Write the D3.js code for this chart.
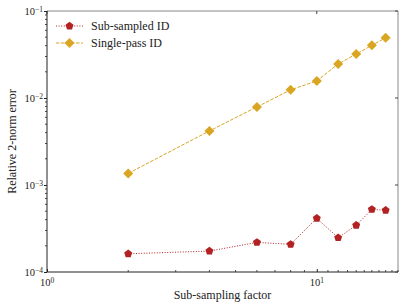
<!DOCTYPE html>
<html>
<head>
<meta charset="utf-8">
<script src="https://cdn.jsdelivr.net/npm/d3@7"></script>
<style>
  body { margin: 0; background: #fff; }
  svg text { font-family: "Liberation Serif", "DejaVu Serif", serif; fill: #222; }
</style>
</head>
<body>
<svg id="chart" width="407" height="308"></svg>
<script>
// data
var factors = [2, 4, 6, 8, 10, 12, 14, 16, 18];
var subSampled = [1.62e-4, 1.74e-4, 2.19e-4, 2.08e-4, 4.14e-4, 2.48e-4, 3.44e-4, 5.25e-4, 5.12e-4];
var singlePass = [1.36e-3, 4.18e-3, 7.9e-3, 1.24e-2, 1.57e-2, 2.46e-2, 3.2e-2, 4.03e-2, 4.93e-2];
var seriesNames = ['Sub-sampled ID', 'Single-pass ID'];
var xMajor = [1, 10];
var yMajor = [1e-4, 1e-3, 1e-2, 1e-1];

var red = '#b22222', gold = '#daa520';

// set up the dimensions of the plotting area
var margin = {top: 11, right: 9, bottom: 36, left: 47};
var width = 407 - margin.left - margin.right;
var height = 308 - margin.top - margin.bottom;

var svg = d3.select('#chart')
    .append('g')
    .attr('transform', 'translate(' + margin.left + ',' + margin.top + ')');

var x = d3.scaleLog().domain([1, 20]).range([0, width]);
var y = d3.scaleLog().domain([1e-4, 1e-1]).range([height, 0]);

// minor ticks
var xMinor = [];
for (var k = 2; k <= 20; k++) { if (k != 10) xMinor.push(k); }
var yMinor = [];
[1e-4, 1e-3, 1e-2].forEach(function(b){
    for (var k = 2; k <= 9; k++) yMinor.push(b * k);
});

// superscript labels like 10^-1
function powLabel(sel, v){
    var e = Math.round(Math.log10(v));
    sel.text('10');
    sel.append('tspan')
        .attr('dy', '-0.45em')
        .style('font-size', '7.5px')
        .text(e < 0 ? '\u2212' + (-e) : e);
}

// spines: top/right light, left/bottom dark
svg.append('line').attr('x1', 0).attr('x2', width).attr('y1', 0).attr('y2', 0)
    .attr('stroke', '#888').attr('stroke-width', 1);
svg.append('line').attr('x1', width).attr('x2', width).attr('y1', 0).attr('y2', height)
    .attr('stroke', '#888').attr('stroke-width', 1);

// bottom axis
var xAxis = svg.append('g')
    .attr('transform', 'translate(0,' + height + ')')
    .call(d3.axisBottom(x).tickValues(xMajor).tickSize(3).tickFormat(''));
xAxis.select('.domain').attr('stroke', '#222').attr('d', 'M0,0H' + width);
xAxis.selectAll('.tick line').attr('y2', -3).attr('stroke', '#222');
svg.append('g')
    .attr('transform', 'translate(0,' + height + ')')
    .selectAll('line').data(xMinor).join('line')
    .attr('x1', function(d){ return x(d); }).attr('x2', function(d){ return x(d); })
    .attr('y1', 0).attr('y2', -2).attr('stroke', '#222').attr('stroke-width', 0.8);
svg.selectAll('.xlab').data(xMajor).join('text')
    .attr('class', 'xlab')
    .attr('x', function(d){ return x(d); })
    .attr('y', height + 14)
    .attr('text-anchor', 'middle')
    .style('font-size', '10.5px')
    .each(function(d){ powLabel(d3.select(this), d); });
// top ticks
svg.selectAll('.xtop').data(xMajor).join('line')
    .attr('x1', function(d){ return x(d); }).attr('x2', function(d){ return x(d); })
    .attr('y1', 0).attr('y2', 3).attr('stroke', '#444');

// left axis
var yAxis = svg.append('g')
    .call(d3.axisLeft(y).tickValues(yMajor).tickSize(3).tickFormat(''));
yAxis.select('.domain').attr('stroke', '#222').attr('d', 'M0,0V' + height);
yAxis.selectAll('.tick line').attr('stroke', '#222');
svg.append('g').selectAll('line').data(yMinor).join('line')
    .attr('x1', 0).attr('x2', -2)
    .attr('y1', function(d){ return y(d); }).attr('y2', function(d){ return y(d); })
    .attr('stroke', '#222').attr('stroke-width', 0.8);
svg.selectAll('.ylab').data(yMajor).join('text')
    .attr('class', 'ylab')
    .attr('x', -4)
    .attr('y', function(d){ return y(d) + 4; })
    .attr('text-anchor', 'end')
    .style('font-size', '10.5px')
    .each(function(d){ powLabel(d3.select(this), d); });
// right ticks
svg.selectAll('.yright').data(yMajor).join('line')
    .attr('x1', width).attr('x2', width - 3)
    .attr('y1', function(d){ return y(d); }).attr('y2', function(d){ return y(d); })
    .attr('stroke', '#444');

// axis labels
svg.append('text')
    .attr('x', width / 2).attr('y', height + 27)
    .attr('text-anchor', 'middle')
    .style('font-size', '12px')
    .text('Sub-sampling factor');
svg.append('text')
    .attr('transform', 'rotate(-90)')
    .attr('x', -height / 2).attr('y', -31)
    .attr('text-anchor', 'middle')
    .style('font-size', '12px')
    .text('Relative 2-norm error');

var line = d3.line()
    .x(function(d){ return x(d[0]); })
    .y(function(d){ return y(d[1]); });

// d3 v7 has no pentagon symbol, build one
function pentPath(r){
    var pts = [];
    for (var i = 0; i < 5; i++){
        var a = -Math.PI / 2 + i * 2 * Math.PI / 5;
        pts.push([r * Math.cos(a), r * Math.sin(a)]);
    }
    return 'M' + pts.map(function(p){ return p.join(','); }).join('L') + 'Z';
}
function diamondPath(r){
    return 'M0,' + (-r) + 'L' + r + ',0L0,' + r + 'L' + (-r) + ',0Z';
}

var subData = factors.map(function(f, i){ return [f, subSampled[i]]; });
var singleData = factors.map(function(f, i){ return [f, singlePass[i]]; });

svg.append('path').datum(subData)
    .attr('fill', 'none').attr('stroke', red).attr('stroke-width', 1)
    .attr('stroke-dasharray', '1,1.6')
    .attr('d', line);
svg.selectAll('.pt-sub').data(subData).join('path')
    .attr('class', 'pt-sub')
    .attr('transform', function(d){ return 'translate(' + x(d[0]) + ',' + y(d[1]) + ')'; })
    .attr('d', pentPath(4.2))
    .attr('fill', red);

svg.append('path').datum(singleData)
    .attr('fill', 'none').attr('stroke', gold).attr('stroke-width', 1)
    .attr('stroke-dasharray', '3.5,1.5')
    .attr('d', line);
svg.selectAll('.pt-single').data(singleData).join('path')
    .attr('class', 'pt-single')
    .attr('transform', function(d){ return 'translate(' + x(d[0]) + ',' + y(d[1]) + ')'; })
    .attr('d', diamondPath(5))
    .attr('fill', gold);

// legend
var legend = svg.append('g').attr('transform', 'translate(9,15)');
var legItems = [
    {name: seriesNames[0], color: red, dash: '1,1.6', shape: pentPath(4.2)},
    {name: seriesNames[1], color: gold, dash: '3.5,1.5', shape: diamondPath(5)}
];
legItems.forEach(function(it, i){
    var g = legend.append('g').attr('transform', 'translate(0,' + (i * 17) + ')');
    g.append('line').attr('x1', 0).attr('x2', 27).attr('y1', 0).attr('y2', 0)
        .attr('stroke', it.color).attr('stroke-dasharray', it.dash);
    g.append('path').attr('d', it.shape).attr('transform', 'translate(13.5,0)').attr('fill', it.color);
    g.append('text').attr('x', 35).attr('y', 4)
        .style('font-size', '12px').text(it.name);
});
</script>
</body>
</html>
